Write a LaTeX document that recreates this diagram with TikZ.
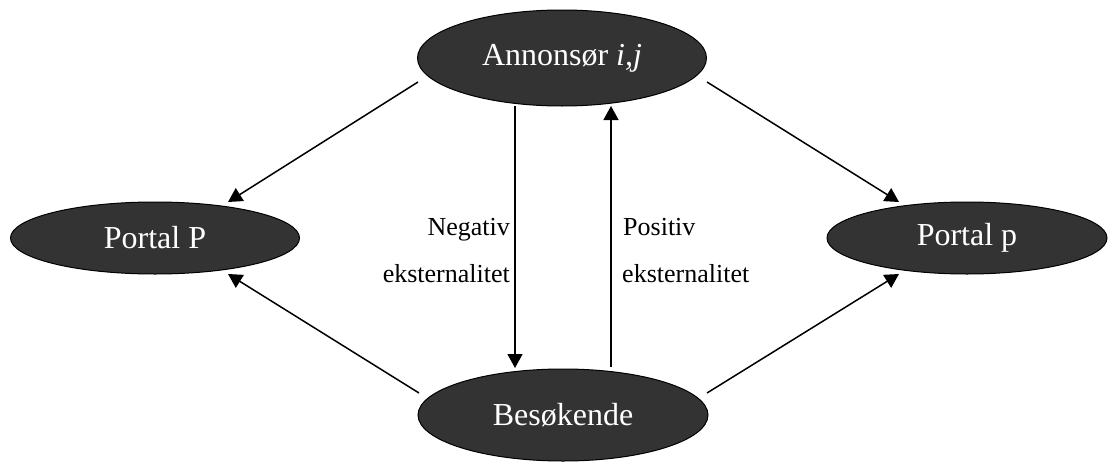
\documentclass[tikz,border=0pt]{standalone}
\usepackage{fontspec}
\setmainfont{Liberation Serif}
\usetikzlibrary{shapes.geometric,arrows.meta,calc}
\definecolor{nodefill}{HTML}{333333}
\begin{document}
\begin{tikzpicture}[x=1pt,y=-1pt,
 blob/.style={ellipse,draw=black,line width=1pt,fill=nodefill,text=white,inner sep=0pt,font=\fontsize{32}{36}\selectfont},
 conn/.style={line width=1.5pt,-{Triangle[length=14pt,width=15pt]}},
 lbl/.style={inner sep=0pt,font=\fontsize{26}{30}\selectfont}]
\useasboundingbox (0,0) rectangle (1108,463);
\node[blob,minimum width=289pt,minimum height=96pt] (A) at (562,58) {Annonsør \textit{i,j}};
\node[blob,minimum width=289pt,minimum height=72pt] (P) at (155,238) {Portal P};
\node[blob,minimum width=280pt,minimum height=72pt] (p) at (967,238) {Portal p};
\node[blob,minimum width=290pt,minimum height=92pt] (B) at (563,415) {Besøkende};
% connectors
\draw[conn] ($(A.center)+(-144,24)$) -- ($(P.center)+(73,-36)$);
\draw[conn] ($(A.center)+(145,24)$) -- ($(p.center)+(-68,-36)$);
\draw[conn] ($(B.center)+(-144,-22)$) -- ($(P.center)+(73,36)$);
\draw[conn] ($(B.center)+(144,-22)$) -- ($(p.center)+(-68,36)$);
\draw[conn] ($(A.center)+(-47,48)$) -- ($(B.center)+(-48,-47)$);
\draw[conn] ($(B.center)+(48,-48)$) -- ($(A.center)+(49,48)$);
% labels
\node[lbl,anchor=base east] (n1) at (510,235) {Negativ};
\node[lbl,anchor=base east] (n2) at (510,282) {eksternalitet};
\node[lbl,anchor=base west] (q1) at (623,235) {Positiv};
\node[lbl,anchor=base west] (q2) at (622,282) {eksternalitet};
\end{tikzpicture}
\end{document}
